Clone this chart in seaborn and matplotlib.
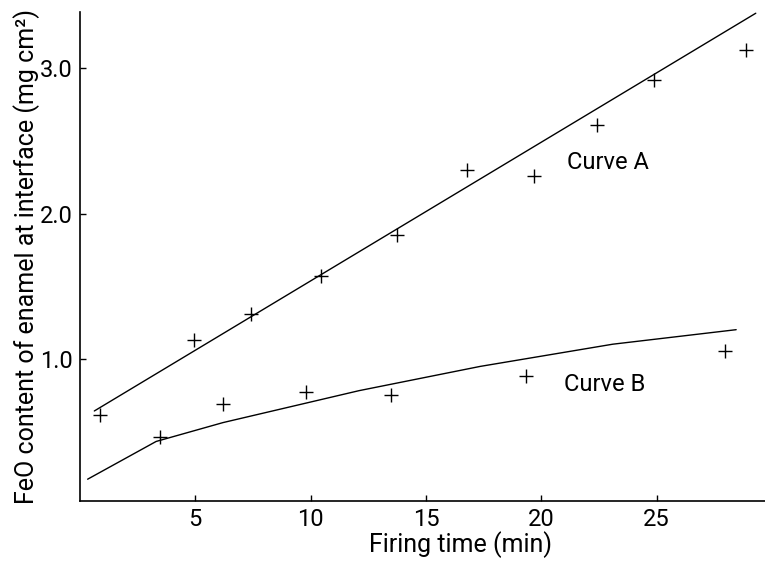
import seaborn as sns
import matplotlib.pyplot as plt
import matplotlib

# firing time (min) and FeO content (mg cm^-2)
time_a = [0.87, 4.96, 7.40, 10.44, 13.73, 16.77, 19.70, 22.40, 24.90, 28.87]
feo_a = [0.61, 1.13, 1.31, 1.57, 1.85, 2.30, 2.26, 2.61, 2.92, 3.13]
time_b = [3.47, 6.20, 9.80, 13.50, 19.34, 27.97]
feo_b = [0.46, 0.69, 0.77, 0.75, 0.88, 1.05]

# fitted curves
fit_a_t = [0.62, 29.3]
fit_a_y = [0.64, 3.38]
fit_b_t = [0.33, 3.3, 6.2, 12.1, 17.35, 23.1, 28.45]
fit_b_y = [0.17, 0.43, 0.56, 0.78, 0.947, 1.10, 1.20]

x_ticks = [5, 10, 15, 20, 25]
y_ticks = [1.0, 2.0, 3.0]

sns.set_style('ticks')
matplotlib.rcParams['font.family'] = ['Roboto', 'DejaVu Sans']
matplotlib.rcParams['text.color'] = 'black'

fig = plt.figure(figsize=(7.65, 5.61), dpi=100)
ax = fig.add_axes([0.1046, 0.107, 0.8954, 0.872])

sns.lineplot(x=fit_a_t, y=fit_a_y, sort=False, estimator=None, color='black', linewidth=1.0, ax=ax)
sns.lineplot(x=fit_b_t, y=fit_b_y, sort=False, estimator=None, color='black', linewidth=1.0, ax=ax)
sns.scatterplot(x=time_a, y=feo_a, marker='+', s=95, color='black', linewidth=1.0, ax=ax)
sns.scatterplot(x=time_b, y=feo_b, marker='+', s=95, color='black', linewidth=1.0, ax=ax)

ax.text(21.1, 2.35, 'Curve A', fontsize=17, va='center', ha='left', color='black')
ax.text(21.0, 0.82, 'Curve B', fontsize=17, va='center', ha='left', color='black')

ax.set_xlim(0, 29.7)
ax.set_ylim(0.02, 3.39)
ax.set_xticks(x_ticks)
ax.set_xticklabels([str(t) for t in x_ticks])
ax.set_yticks(y_ticks)
ax.set_yticklabels(['%.1f' % v for v in y_ticks])
ax.tick_params(direction='in', length=4, width=1, labelsize=17, pad=5, colors='black')

ax.set_xlabel('Firing time (min)', fontsize=18, color='black')
ax.set_ylabel('FeO content of enamel at interface (mg cm²)', fontsize=18, color='black')
ax.xaxis.set_label_coords(0.556, -0.062)
ax.yaxis.set_label_coords(-0.058, 0.5)

sns.despine(ax=ax)
for s in ['left', 'bottom']:
    ax.spines[s].set_color('black')
    ax.spines[s].set_linewidth(1.2)

fig.savefig('out.png', dpi=100)
